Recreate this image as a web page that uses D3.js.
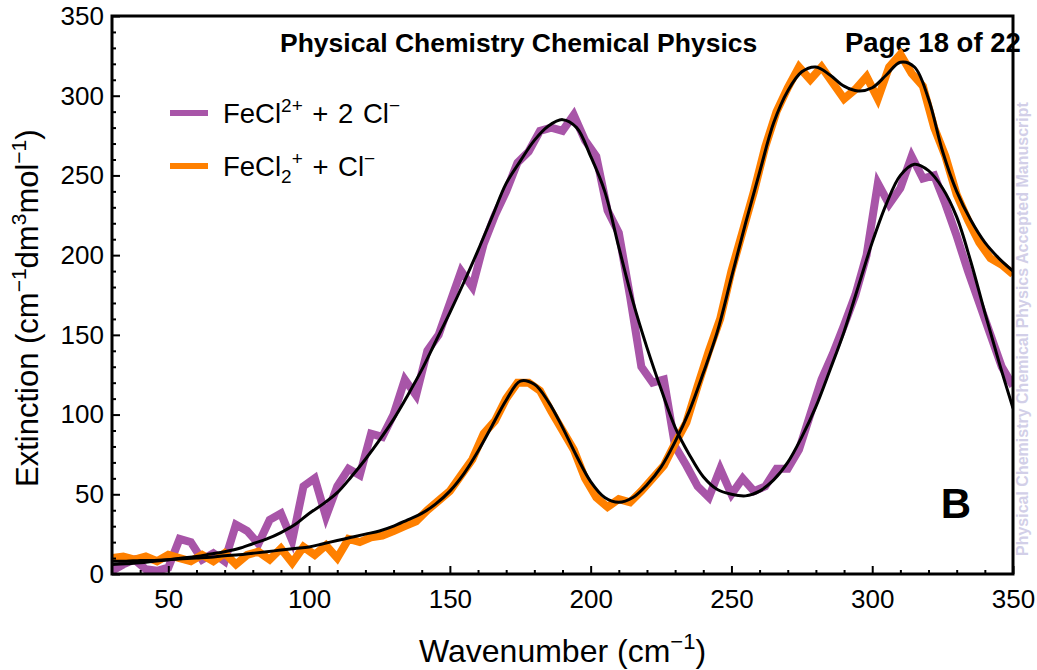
<!DOCTYPE html>
<html>
<head>
<meta charset="utf-8">
<script src="https://cdn.jsdelivr.net/npm/d3@7"></script>
<style>
  html, body { margin: 0; padding: 0; background: #fff; }
  svg { display: block; font-family: "Liberation Sans", Arial, sans-serif; }
</style>
</head>
<body>
<svg id="chart" width="1037" height="670"></svg>
<script>
// Measured wavenumber grid (cm^-1)
const wavenumbers = [30,34,38,42,46,50,54,58,62,66,70,74,78,82,86,90,94,98,102,106,110,114,118,122,126,130,134,138,142,146,150,154,158,162,166,170,174,178,182,186,190,194,198,202,206,210,214,218,222,226,230,234,238,242,246,250,254,258,262,266,270,274,278,282,286,290,294,298,302,306,310,314,318,322,326,330,334,338,342,346,350];

// FeCl2+ + 2 Cl- measured extinction
const feCl_data = [2,6,9,3,2,4,22,20,9,13,8,31,27,19,34,38,21,55,60,36,55,66,62,88,86,100,122,112,140,150,170,190,180,207,225,240,258,265,278,280,278,288,272,262,228,214,174,130,120,122,80,68,55,48,66,50,60,52,55,66,66,78,100,122,138,156,175,200,245,232,242,262,248,250,232,212,190,170,150,130,118];

// FeCl2+ + Cl- (FeCl_2^+) measured extinction
const feCl2_data = [10,11,9,11,8,12,10,8,12,8,13,6,12,14,9,16,7,17,12,18,10,22,20,23,24,27,30,33,40,46,52,62,72,88,96,110,120,120,115,102,90,78,60,48,42,47,45,52,60,68,82,95,118,140,160,190,215,240,268,290,305,318,310,318,308,298,304,312,298,318,326,314,306,280,262,238,222,208,198,194,188];

// Fitted curves sampled every 5 cm^-1
const fitWavenumbers = [30,35,40,45,50,55,60,65,70,75,80,85,90,95,100,105,110,115,120,125,130,135,140,145,150,155,160,165,170,175,180,185,190,195,200,205,210,215,220,225,230,235,240,245,250,255,260,265,270,275,280,285,290,295,300,305,310,315,320,325,330,335,340,345,350];
const feCl_fit = [6,6.5,7,8,9,10,11,12.5,14,16,19,22,26,31,38,44,51,61,72,84,97,112,128,146,164,183,203,224,245,259,272,281,285,280,262,240,205,171,142,116,92,75,61,53,50,49,52,59,70,86,105,128,152,180,208,232,250,257,253,242,224,196,164,133,104];
const feCl2_fit = [8,8,8.5,8.5,9,9.5,10,10.5,11.5,12,13,14,15,16,17,19,21,23,25,27,30,34,38,44,52,63,77,93,109,121,119,108,92,74,58,48,45,48,56,67,83,102,126,152,186,220,252,283,303,315,318,313,306,303,305,313,321,318,298,265,240,222,208,198,190];

// Axis ticks
const xMajorTicks = [50,100,150,200,250,300,350];
const yMajorTicks = [0,50,100,150,200,250,300,350];
const xMinorTicks = [40,60,70,80,90,110,120,130,140,160,170,180,190,210,220,230,240,260,270,280,290,310,320,330,340];
const yMinorTicks = [10,20,30,40,60,70,80,90,110,120,130,140,160,170,180,190,210,220,230,240,260,270,280,290,310,320,330,340];

const colors = { feCl: "#a855a8", feCl2: "#ff8000", fit: "#000000" };

const svg = d3.select("#chart");
const plot = { left: 112, right: 1013, top: 16, bottom: 574 };

const x = d3.scaleLinear().domain([30, 350]).range([plot.left, plot.right]);
const y = d3.scaleLinear().domain([0, 350]).range([plot.bottom, plot.top]);

svg.append("defs").append("clipPath").attr("id", "plotClip")
  .append("rect")
  .attr("x", plot.left).attr("y", plot.top)
  .attr("width", plot.right - plot.left).attr("height", plot.bottom - plot.top);

// Header text
svg.append("text")
  .attr("x", 280).attr("y", 52)
  .attr("font-size", 26.5).attr("font-weight", "bold")
  .text("Physical Chemistry Chemical Physics");
svg.append("text")
  .attr("x", 845).attr("y", 52)
  .attr("font-size", 27.5).attr("font-weight", "bold")
  .text("Page 18 of 22");

// Side watermark
svg.append("text")
  .attr("transform", "translate(1028,556) rotate(-90)")
  .attr("font-size", 16).attr("font-weight", "bold")
  .attr("fill", "#d2cfe8")
  .text("Physical Chemistry Chemical Physics Accepted Manuscript");

const g = svg.append("g").attr("clip-path", "url(#plotClip)");

const dataLine = d3.line()
  .x((d, i) => x(wavenumbers[i]))
  .y(d => y(d));

const fitLine = d3.line()
  .x((d, i) => x(fitWavenumbers[i]))
  .y(d => y(d))
  .curve(d3.curveCatmullRom.alpha(0.5));

g.append("path").datum(feCl_data)
  .attr("d", dataLine)
  .attr("fill", "none").attr("stroke", colors.feCl)
  .attr("stroke-width", 8).attr("stroke-linejoin", "miter").attr("stroke-miterlimit", 4);

g.append("path").datum(feCl2_data)
  .attr("d", dataLine)
  .attr("fill", "none").attr("stroke", colors.feCl2)
  .attr("stroke-width", 8).attr("stroke-linejoin", "miter").attr("stroke-miterlimit", 4);

[feCl_fit, feCl2_fit].forEach(series => {
  g.append("path").datum(series)
    .attr("d", fitLine)
    .attr("fill", "none").attr("stroke", colors.fit)
    .attr("stroke-width", 3);
});

// Axes with inward ticks
const tickFont = 26;
const xAxis = svg.append("g").attr("transform", `translate(0,${plot.bottom})`)
  .call(d3.axisBottom(x).tickValues(xMajorTicks).tickSizeInner(-8).tickSizeOuter(0).tickPadding(16).tickFormat(d3.format("d")));
const xMinor = svg.append("g").attr("transform", `translate(0,${plot.bottom})`)
  .call(d3.axisBottom(x).tickValues(xMinorTicks).tickSizeInner(-4).tickSizeOuter(0).tickFormat(""));
const yAxis = svg.append("g").attr("transform", `translate(${plot.left},0)`)
  .call(d3.axisLeft(y).tickValues(yMajorTicks).tickSizeInner(-8).tickSizeOuter(0).tickPadding(8).tickFormat(d3.format("d")));
const yMinor = svg.append("g").attr("transform", `translate(${plot.left},0)`)
  .call(d3.axisLeft(y).tickValues(yMinorTicks).tickSizeInner(-4).tickSizeOuter(0).tickFormat(""));

[xAxis, xMinor, yAxis, yMinor].forEach(a => {
  a.select(".domain").remove();
  a.selectAll("line").attr("stroke", "#000").attr("stroke-width", 2);
  a.selectAll("text").attr("font-size", tickFont).attr("fill", "#000")
    .attr("font-family", "Liberation Sans, Arial, sans-serif");
});

// Frame
svg.append("rect")
  .attr("x", plot.left).attr("y", plot.top)
  .attr("width", plot.right - plot.left).attr("height", plot.bottom - plot.top)
  .attr("fill", "none").attr("stroke", "#000").attr("stroke-width", 3);

// Panel label
svg.append("text")
  .attr("x", 956).attr("y", 518).attr("text-anchor", "middle")
  .attr("font-size", 42).attr("font-weight", "bold")
  .text("B");

// Legend
const legend = [
  { color: colors.feCl, parts: [["FeCl", 0], ["2+", -1], [" + 2 Cl", 0], ["\u2212", -1]] },
  { color: colors.feCl2, parts: [["FeCl", 0], ["2", 1], ["+", -1], [" + Cl", 0], ["\u2212", -1]] }
];
const legendY = [113, 166];
legend.forEach((item, i) => {
  svg.append("line")
    .attr("x1", 170).attr("x2", 208)
    .attr("y1", legendY[i]).attr("y2", legendY[i])
    .attr("stroke", item.color).attr("stroke-width", 6);
  const t = svg.append("text")
    .attr("x", 223).attr("y", legendY[i] + 10)
    .attr("font-size", 27.5)
    .attr("word-spacing", 2);
  let prev = 0;
  item.parts.forEach(([str, level]) => {
    const shift = level === -1 ? -11 : level === 1 ? 7 : 0;
    t.append("tspan")
      .attr("dy", shift - prev)
      .attr("font-size", level === 0 ? 27.5 : 19)
      .text(str);
    prev = shift;
  });
});

// Axis titles
const xt = svg.append("text")
  .attr("x", (plot.left + plot.right) / 2).attr("y", 662)
  .attr("text-anchor", "middle").attr("font-size", 32);
xt.append("tspan").text("Wavenumber (cm");
xt.append("tspan").attr("dy", -13).attr("font-size", 22).text("\u22121");
xt.append("tspan").attr("dy", 13).text(")");

const yt = svg.append("text")
  .attr("transform", "translate(38,487) rotate(-90)")
  .attr("font-size", 31);
yt.append("tspan").text("Extinction (cm");
yt.append("tspan").attr("dy", -12).attr("font-size", 21).text("\u22121");
yt.append("tspan").attr("dy", 12).text("dm");
yt.append("tspan").attr("dy", -12).attr("font-size", 21).text("3");
yt.append("tspan").attr("dy", 12).text("mol");
yt.append("tspan").attr("dy", -12).attr("font-size", 21).text("\u22121");
yt.append("tspan").attr("dy", 12).text(")");
</script>
</body>
</html>
